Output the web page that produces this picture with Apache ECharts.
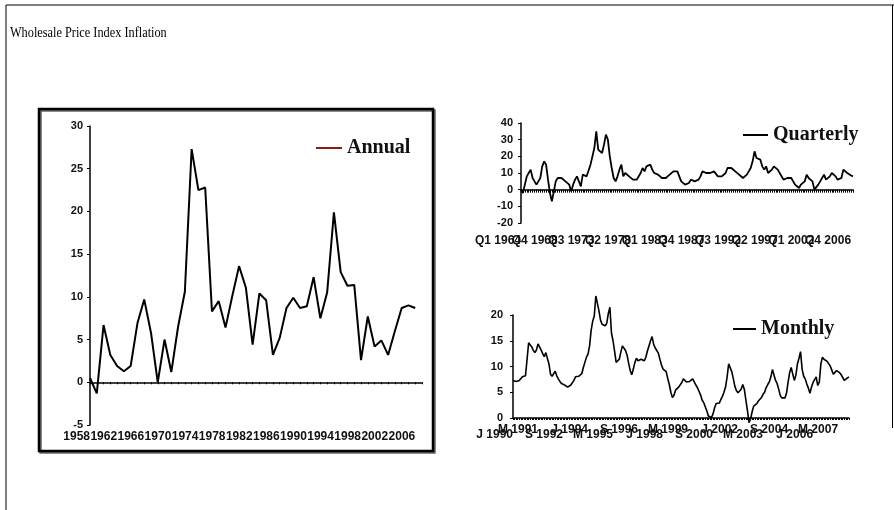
<!DOCTYPE html>
<html>
<head>
<meta charset="utf-8">
<script src="https://cdn.jsdelivr.net/npm/echarts@6/dist/echarts.min.js"></script>
<style>
  html, body { margin: 0; padding: 0; background: #fff; }
  #chart { width: 894px; height: 510px; }
</style>
</head>
<body>
<div id="chart"></div>
<script>
// annual WPI inflation, one value per year from 1958
const annualYears = ['1958', '1959', '1960', '1961', '1962', '1963', '1964', '1965', '1966', '1967',
  '1968', '1969', '1970', '1971', '1972', '1973', '1974', '1975', '1976', '1977',
  '1978', '1979', '1980', '1981', '1982', '1983', '1984', '1985', '1986', '1987',
  '1988', '1989', '1990', '1991', '1992', '1993', '1994', '1995', '1996', '1997',
  '1998', '1999', '2000', '2001', '2002', '2003', '2004', '2005', '2006', '2007']
const annualValues = [0.5, -1.3, 6.7, 3.2, 1.9, 1.3, 1.9, 6.9, 9.7, 5.8,
  0, 5.0, 1.2, 6.5, 10.6, 27.3, 22.5, 22.8, 8.3, 9.5,
  6.4, 10.1, 13.6, 11.1, 4.4, 10.4, 9.6, 3.2, 5.2, 8.7,
  9.9, 8.7, 8.9, 12.3, 7.5, 10.5, 19.9, 12.9, 11.3, 11.4,
  2.6, 7.7, 4.2, 4.9, 3.2, 6.0, 8.7, 9.0, 8.7]

// quarterly, Q1 1964 onwards
const quarterlyValues = [0, -2, 3, 8, 10, 12, 7, 5, 3, 5,
  7, 14, 17, 15, 6, -2, -7, -1, 5, 7,
  7, 7, 6, 5, 4, 3, -1, 3, 6, 8,
  9, 2, 9, 8, 8, 9, 15, 20, 25, 35,
  24, 23, 22, 27, 33, 30, 20, 13, 7, 5,
  8, 12, 15, 8, 10, 9, 8, 7, 6, 6,
  6, 7, 10, 13, 11, 14, 13, 15, 12, 10,
  10, 9, 9, 7, 6, 7, 8, 9, 10, 11,
  12, 11, 10, 5, 4, 3, 2, 4, 6, 7,
  5, 5, 6, 8, 11, 10, 10, 10, 10, 10,
  11, 11, 8, 7, 8, 8, 10, 13, 14, 13,
  12, 11, 10, 9, 8, 7, 8, 9, 11, 13,
  17, 23, 19, 20, 18, 14, 12, 14, 10, 11,
  12, 14, 15, 12, 10, 9, 6, 5, 7, 7,
  7, 5, 3, 2, 1, 3, 4, 5, 9, 7,
  6, 5, 0, 1, 3, 5, 7, 9, 6, 5,
  8, 10, 11, 8, 6, 7, 7, 12, 11, 10,
  9, 8.5, 8]

// monthly, Jan 1990 onwards
const monthlyValues = [7.3, 7.2, 7.1, 7.2, 7.3, 7.4, 8.0, 8.3, 8.2, 8.5,
  14.6, 14.3, 13.8, 13.1, 12.7, 13.2, 14.4, 13.8, 13.2, 12.5,
  11.9, 12.7, 12.7, 10.5, 8.5, 8.1, 8.6, 9.1, 8.2, 7.6,
  7.1, 6.7, 6.4, 6.4, 6.5, 6.0, 6.2, 6.4, 6.7, 7.3,
  8.0, 8.2, 8.1, 8.4, 8.6, 9.8, 10.8, 11.8, 12.4, 14.0,
  17.0, 18.8, 19.8, 23.7, 23.5, 20.8, 19.0, 18.2, 17.9, 17.9,
  18.4, 20.3, 21.5, 16.5, 15.0, 13.0, 10.8, 10.7, 11.4, 12.8,
  14.0, 14.0, 13.1, 12.2, 10.6, 9.2, 8.4, 9.5, 10.8, 11.6,
  11.1, 11.2, 11.4, 11.3, 11.1, 11.8, 13.0, 14.0, 15.0, 15.8,
  14.3, 13.6, 13.7, 12.6, 11.4, 10.3, 9.5, 9.4, 9.0, 7.7,
  6.5, 5.0, 4.0, 4.4, 5.4, 5.2, 6.0, 6.3, 6.9, 7.6,
  7.3, 7.0, 7.1, 7.1, 7.2, 7.6, 7.3, 6.4, 5.9, 5.2,
  4.5, 3.5, 3.0, 2.8, 1.4, 0.4, 0.2, 0.1, 0.8, 2.0,
  2.8, 2.9, 2.9, 3.6, 4.2, 5.0, 6.0, 8.0, 10.5, 10.2,
  9.0, 7.6, 6.1, 5.3, 4.9, 4.6, 5.6, 6.5, 5.6, 3.5,
  1.5, -0.9, -0.2, 1.2, 2.3, 2.3, 2.8, 3.3, 3.6, 4.0,
  4.6, 5.0, 5.9, 6.5, 7.0, 8.0, 9.4, 9.1, 7.3, 6.7,
  5.6, 4.4, 3.9, 3.8, 3.9, 4.8, 6.9, 8.8, 9.8, 9.5,
  7.3, 8.3, 10.5, 11.6, 12.9, 9.5, 8.1, 7.6, 6.6, 5.8,
  4.8, 6.0, 6.9, 6.9, 8.0, 6.3, 7.0, 10.5, 11.8, 11.4,
  11.2, 11.0, 10.7, 10.1, 9.3, 8.5, 8.4, 9.2, 9.0, 8.8,
  8.4, 8.1, 7.3, 7.5, 7.8, 8.0]

const quarterLabels = []
for (let i = 0; i < quarterlyValues.length; i++) {
  quarterLabels.push('Q' + (i % 4 + 1) + ' ' + (1964 + Math.floor(i / 4)))
}
const monthInitials = ['J', 'F', 'M', 'A', 'M', 'J', 'J', 'A', 'S', 'O', 'N', 'D']
const monthLabels = []
for (let i = 0; i < monthlyValues.length; i++) {
  monthLabels.push(monthInitials[i % 12] + ' ' + (1990 + Math.floor(i / 12)))
}

const chart = echarts.init(document.getElementById('chart'))

const axisFont = { fontFamily: 'Arial, "Liberation Sans", sans-serif', fontWeight: 'bold', fontSize: 12, color: '#111' }
const yFont = { fontFamily: 'Arial, "Liberation Sans", sans-serif', fontWeight: 'bold', fontSize: 11, color: '#111' }
const legendFont = { fontFamily: '"Liberation Serif", "Times New Roman", serif', fontWeight: 'bold', fontSize: 20, color: '#111' }
const blackLine = { color: '#000', width: 1.5 }

function zeroAxis(grid, data, tickLen) {
  return {
    type: 'category', gridIndex: grid, data: data, boundaryGap: false,
    axisLine: { onZero: true, lineStyle: blackLine },
    axisTick: { show: true, interval: 0, length: tickLen, inside: false, lineStyle: { color: '#000' } },
    axisLabel: { show: false },
    splitLine: { show: false }
  }
}

// every label is drawn (interval 0) so none gets dropped, the formatter blanks the ones in between
function labelAxis(grid, data, every, margin) {
  return {
    type: 'category', gridIndex: grid, data: data, boundaryGap: false, position: 'bottom',
    axisLine: { show: false, onZero: false },
    axisTick: { show: false },
    axisLabel: Object.assign({
      interval: 0, margin: margin, align: 'right',
      formatter: function (value, index) { return index % every === 0 ? value : '' }
    }, axisFont),
    splitLine: { show: false }
  }
}

function valueAxis(grid, min, max, step, margin) {
  return {
    type: 'value', gridIndex: grid, min: min, max: max, interval: step,
    axisLine: { show: true, lineStyle: blackLine },
    axisTick: { show: true, length: 3, lineStyle: { color: '#000' } },
    axisLabel: Object.assign({ margin: margin }, yFont),
    splitLine: { show: false }
  }
}

const monthAxis = labelAxis(2, monthLabels, 16, 6)
monthAxis.axisLine = { show: true, lineStyle: blackLine }
monthAxis.axisTick = { show: true, interval: 0, length: 2, lineStyle: { color: '#000' } }
monthAxis.axisLabel.formatter = function (value, index) {
  if (index % 16 !== 0) return ''
  return (index / 16) % 2 === 0 ? '{lo|' + value + '}' : '{hi|' + value + '}'
}
monthAxis.axisLabel.rich = {
  lo: Object.assign({ padding: [5, 0, 0, 0] }, axisFont),
  hi: Object.assign({ padding: [0, 0, 0, 0] }, axisFont)
}

const option = {
  animation: false,
  backgroundColor: '#fff',
  graphic: [
    { type: 'line', shape: { x1: 6, y1: 5, x2: 894, y2: 5 }, style: { stroke: '#000', lineWidth: 1 } },
    { type: 'line', shape: { x1: 6, y1: 5, x2: 6, y2: 510 }, style: { stroke: '#000', lineWidth: 1 } },
    { type: 'line', shape: { x1: 892.5, y1: 5, x2: 892.5, y2: 428 }, style: { stroke: '#000', lineWidth: 1 } },
    {
      type: 'text', x: 10, y: 26, scaleX: 0.82,
      style: { text: 'Wholesale Price Index Inflation', fontFamily: '"Liberation Serif", "Times New Roman", serif', fontSize: 15, fill: '#000' }
    },
    {
      type: 'rect', shape: { x: 39, y: 109, width: 394, height: 342 },
      style: { fill: 'none', stroke: '#000', lineWidth: 2.5, shadowColor: 'rgba(0,0,0,0.6)', shadowOffsetX: 1.5, shadowOffsetY: 1.5 }
    }
  ],
  legend: [
    {
      left: 316, top: 138, padding: 0, icon: 'rect', itemWidth: 26, itemHeight: 2, textStyle: legendFont,
      data: [{ name: 'Annual', itemStyle: { color: '#8b1a1a' } }]
    },
    {
      left: 743, top: 125, padding: 0, icon: 'rect', itemWidth: 25, itemHeight: 2, textStyle: legendFont,
      data: [{ name: 'Quarterly', itemStyle: { color: '#000' } }]
    },
    {
      left: 733, top: 319, padding: 0, icon: 'rect', itemWidth: 23, itemHeight: 2, textStyle: legendFont,
      data: [{ name: 'Monthly', itemStyle: { color: '#000' } }]
    }
  ],
  grid: [
    { left: 90, top: 126, width: 332, height: 299 },
    { left: 521, top: 123, width: 332, height: 100 },
    { left: 513, top: 315, width: 336, height: 103 }
  ],
  xAxis: [
    zeroAxis(0, annualYears, 2),
    labelAxis(0, annualYears, 4, 6),
    zeroAxis(1, quarterLabels, 3),
    labelAxis(1, quarterLabels, 19, 12),
    monthAxis
  ],
  yAxis: [
    valueAxis(0, -5, 30, 5, 7),
    valueAxis(1, -20, 40, 10, 8),
    valueAxis(2, 0, 20, 5, 10)
  ],
  series: [
    {
      name: 'Annual', type: 'line', xAxisIndex: 0, yAxisIndex: 0, data: annualValues,
      showSymbol: false, lineStyle: { color: '#000', width: 2 }, itemStyle: { color: '#000' }
    },
    {
      name: 'Quarterly', type: 'line', xAxisIndex: 2, yAxisIndex: 1, data: quarterlyValues,
      showSymbol: false, lineStyle: { color: '#000', width: 1.8 }, itemStyle: { color: '#000' }
    },
    {
      name: 'Monthly', type: 'line', xAxisIndex: 4, yAxisIndex: 2, data: monthlyValues, clip: false,
      showSymbol: false, lineStyle: { color: '#000', width: 1.6 }, itemStyle: { color: '#000' }
    }
  ]
}

chart.setOption(option)
</script>
</body>
</html>
